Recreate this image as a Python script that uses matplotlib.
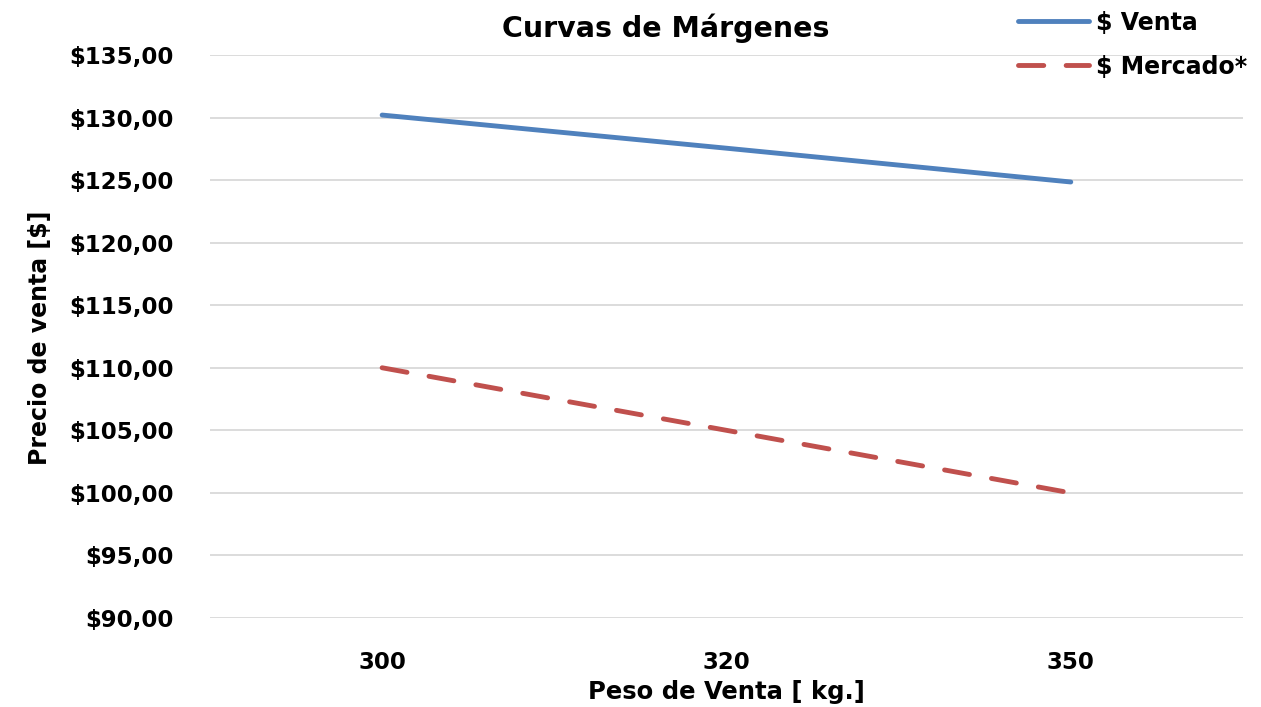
import matplotlib
matplotlib.use("Agg")
import matplotlib.pyplot as plt
from matplotlib.ticker import FuncFormatter

# data
pesos = ["300", "320", "350"]
precio_venta = [130.2, 127.55, 124.85]
precio_mercado = [110.0, 105.0, 100.0]
y_ticks = [90, 95, 100, 105, 110, 115, 120, 125, 130, 135]

_BLUE, _RED, _GRID = "#4f81bd", "#c0504d", "#d9d9d9"

plt.rcParams["font.family"] = "DejaVu Sans"
plt.rcParams["font.weight"] = "bold"

fig = plt.figure(figsize=(12.61, 7.07), dpi=100)
ax = fig.add_axes([0.1665, 0.1259, 0.8192, 0.7963])

x = range(len(pesos))
ax.plot(x, precio_venta, color=_BLUE, lw=3.5, solid_capstyle="round",
        label="$ Venta")
ax.plot(x, precio_mercado, color=_RED, lw=3.5, dashes=(5.2, 4.6),
        dash_capstyle="round", label="$ Mercado*")

ax.set_xlim(-0.5, len(pesos) - 0.5)
ax.set_ylim(90, 135)
ax.set_xticks(list(x))
ax.set_xticklabels(pesos)
ax.set_yticks(y_ticks)
ax.yaxis.set_major_formatter(FuncFormatter(lambda v, _: f"${v:.2f}".replace(".", ",")))
ax.tick_params(axis="both", length=0, labelsize=16.5)
ax.tick_params(axis="x", pad=24)
ax.tick_params(axis="y", pad=26)
for s in ax.spines.values():
    s.set_visible(False)
ax.grid(axis="y", color=_GRID, lw=1.3)
ax.set_axisbelow(True)

ax.set_xlabel("Peso de Venta [ kg.]", fontsize=17.5, fontweight="bold", labelpad=4)
ax.set_ylabel("Precio de venta [$]", fontsize=17, fontweight="bold")
ax.yaxis.set_label_coords(-0.153, 0.497)
fig.text(0.528, 0.96, "Curvas de Márgenes", ha="center", va="center",
         fontsize=20.5, fontweight="bold")

fig.legend(loc="upper right", bbox_to_anchor=(1.006, 1.015), frameon=False,
           fontsize=17, handlelength=3.0, handletextpad=0.3, labelspacing=0.85)

fig.savefig("out.png", dpi=100)
